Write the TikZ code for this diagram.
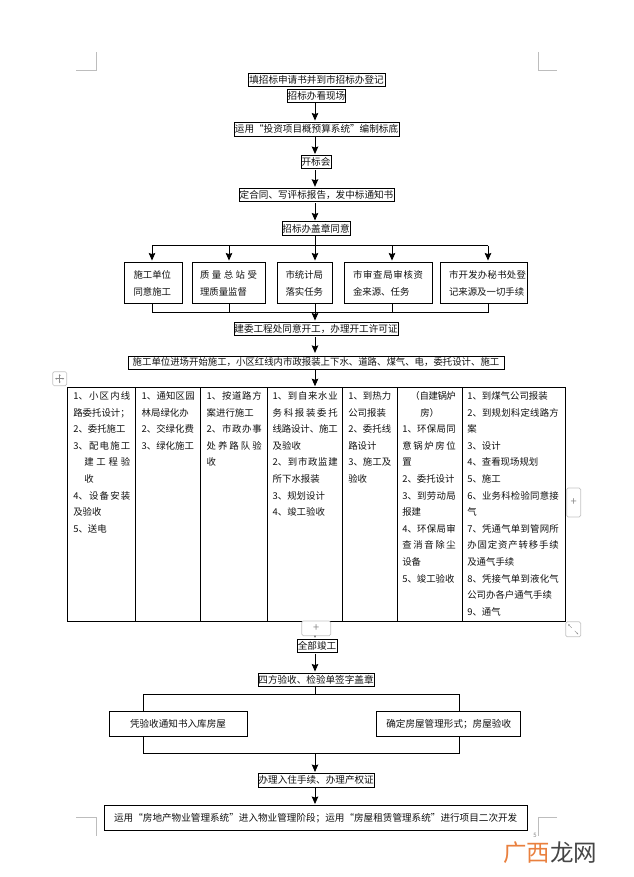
\documentclass[tikz,border=0pt]{standalone}
\usepackage{fontspec}
\setmainfont{Noto Sans CJK SC}
\usetikzlibrary{arrows.meta}
\XeTeXlinebreaklocale "zh"
\XeTeXlinebreakskip=0pt plus 3pt minus 0.5pt
\definecolor{markgrey}{HTML}{BDBDBD}
\definecolor{widgetgrey}{HTML}{C4C4C4}
\definecolor{iconcol}{HTML}{8A8A8A}
\definecolor{wmorange}{HTML}{E9803F}
\definecolor{wmdark}{HTML}{454545}
\definecolor{inkcol}{HTML}{111111}
\newcommand{\cellbody}[6]{\makebox[#1pt][l]{\hspace*{#2pt}\parbox[c][#3pt][t]{#4pt}{\fontsize{9.4}{#5}\selectfont\tolerance=10000\hbadness=10000\hfuzz=6pt\parindent=0pt\rule{0pt}{10pt}#6}}}
\newcommand{\ind}{\hspace*{11pt}}
\tikzset{
  bx/.style={draw=black,line width=0.9pt,inner sep=0pt,font=\fontsize{9.6}{11}\selectfont,text=inkcol},
  cellbx/.style={draw=black,line width=0.9pt,inner sep=0pt,text=inkcol},
  wide/.style={cellbx,font=\fontsize{9.6}{11}\selectfont},
  link/.style={draw=black,line width=0.9pt},
  arr/.style={link,-{Stealth[length=7.5pt,width=6.5pt,inset=1pt]},shorten >=1pt},
  mk/.style={draw=markgrey,line width=0.6pt},
  widget/.style={draw=widgetgrey,fill=white,line width=0.7pt,rounded corners=1.5pt,inner sep=0pt,text=iconcol},
  icon/.style={draw=iconcol,line width=0.45pt},
  wm/.style={inner sep=0pt,font=\fontsize{23.5}{24}\selectfont},
}
\begin{document}
\begin{tikzpicture}[x=1pt,y=-1pt]
\useasboundingbox (0,0) rectangle (633,877);
% crop marks
\draw[mk] (76,70) -- (96,70) -- (96,52);
\draw[mk] (538,52) -- (538,70) -- (557,70);
\draw[mk] (76,817) -- (96,817) -- (96,836);
\draw[mk] (557,817) -- (538,817) -- (538,836);
\coordinate (spine) at (315,0);
% top chain
\node[bx,minimum width=137pt,minimum height=13pt] (n1) at (316.5,79.5) {填招标申请书并到市招标办登记};
\node[bx,minimum width=58.5pt,minimum height=13pt] (n2) at (316.5,95.5) {招标办看现场};
\node[bx,minimum width=165pt,minimum height=14pt] (n3) at (316.5,129) {运用“投资项目概预算系统”编制标底};
\node[bx,minimum width=30pt,minimum height=13pt] (n4) at (316,162) {开标会};
\node[bx,minimum width=155pt,minimum height=13.5pt] (n5) at (316.5,195) {定合同、写评标报告，发中标通知书};
\node[bx,minimum width=68pt,minimum height=13.5pt] (n6) at (316,228.7) {招标办盖章同意};
\draw[arr] (n2.south -| spine) ++(0,1) -- (n3.north -| spine);
\draw[arr] (n3.south -| spine) -- (n4.north -| spine);
\draw[arr] (n4.south -| spine) ++(0,1) -- (n5.north -| spine);
\draw[arr] (n5.south -| spine) ++(0,1) -- (n6.north -| spine);
% five boxes
\node[cellbx,minimum width=58pt,minimum height=41pt] (r1) at (153,282.5) {\cellbody{58}{9.5}{28}{39}{16.5}{施工单位\\同意施工}};
\node[cellbx,minimum width=73pt,minimum height=41pt] (r2) at (228.5,282.5) {\cellbody{73}{8}{28}{57}{16.5}{质量总站受\linebreak 理质量监督}};
\node[cellbx,minimum width=55pt,minimum height=41pt] (r3) at (304.5,282.5) {\cellbody{55}{8.5}{28}{41}{16.5}{市统计局\\落实任务}};
\node[cellbx,minimum width=88pt,minimum height=41pt] (r4) at (388,282.5) {\cellbody{88}{9}{28}{70}{16.5}{市审查局审核资\linebreak 金来源、任务}};
\node[cellbx,minimum width=87pt,minimum height=41pt] (r5) at (483.5,282.5) {\cellbody{87}{9}{28}{77}{16.5}{市开发办秘书处登\linebreak 记来源及一切手续}};
\coordinate (t1) at (152,245.7);
\coordinate (t2) at (229,245.7);
\coordinate (t4) at (392,245.7);
\coordinate (t5) at (488,245.7);
\coordinate (u1) at (152,312);
\coordinate (u5) at (488,312);
\draw[link] (n6.south -| spine) -- (spine |- t1);
\draw[link] (t1) -- (t5);
\draw[arr] (t1) -- (r1.north -| t1);
\draw[arr] (t2) -- (r2.north -| t2);
\draw[arr] (spine |- t1) -- (r3.north -| spine);
\draw[arr] (t4) -- (r4.north -| t4);
\draw[arr] (t5) -- (r5.north -| t5);
\draw[link] (r1.south -| u1) -- (u1) -- (u5) -- (r5.south -| u5);
\draw[link] (r2.south -| t2) -- (t2 |- u1);
\draw[link] (r4.south -| t4) -- (t4 |- u1);
\draw[link] (r3.south -| spine) -- (spine |- u1);
% permits
\node[bx,minimum width=164pt,minimum height=13pt] (n7) at (316,328.5) {建委工程处同意开工，办理开工许可证};
\node[bx,minimum width=376pt,minimum height=13pt,font=\fontsize{9.4}{11}\selectfont] (n8) at (316,362.5) {施工单位进场开始施工，小区红线内市政报装上下水、道路、煤气、电，委托设计、施工};
\draw[arr] (spine |- u1) -- (n7.north -| spine);
\draw[arr] (n7.south -| spine) ++(0,1.5) -- ++(0,17);
% table
\node[cellbx,minimum width=68.4pt,minimum height=233.6pt] (c1) at (101.5,504.5) {\cellbody{68.4}{6}{230}{57}{16.6}{1、小区内线\linebreak 路委托设计；\\2、委托施工\\3、配电施工\linebreak \ind 建工程验\linebreak \ind 收\\4、设备安装\linebreak 及验收\\5、送电}};
\node[cellbx,minimum width=65pt,minimum height=233.6pt] (c2) at (168.2,504.5) {\cellbody{65}{6}{230}{53}{16.6}{1、通知区园\linebreak 林局绿化办\\2、交绿化费\\3、绿化施工}};
\node[cellbx,minimum width=67pt,minimum height=233.6pt] (c3) at (234.2,504.5) {\cellbody{67}{6}{230}{55}{16.6}{1、按道路方\linebreak 案进行施工\\2、市政办事\linebreak 处养路队验\linebreak 收}};
\node[cellbx,minimum width=74.6pt,minimum height=233.6pt] (c4) at (305,504.5) {\cellbody{74.6}{5}{230}{65}{16.6}{1、到自来水业\linebreak 务科报装委托\linebreak 线路设计、施工\linebreak 及验收\\2、到市政监建\linebreak 所下水报装\\3、规划设计\\4、竣工验收}};
\node[cellbx,minimum width=55pt,minimum height=233.6pt] (c5) at (369.8,504.5) {\cellbody{55}{6}{230}{43}{16.6}{1、到热力\linebreak 公司报装\\2、委托线\linebreak 路设计\\3、施工及\linebreak 验收}};
\node[cellbx,minimum width=65pt,minimum height=233.6pt] (c6) at (429.8,504.5) {\cellbody{65}{5}{230}{53.5}{16.6}{\hspace*{8pt}（自建锅炉\\\hspace*{18pt}房）\\1、环保局同\linebreak 意锅炉房位\linebreak 置\\2、委托设计\\3、到劳动局\linebreak 报建\\4、环保局审\linebreak 查消音除尘\linebreak 设备\\5、竣工验收}};
\node[cellbx,minimum width=103pt,minimum height=233.6pt] (c7) at (513.8,504.5) {\cellbody{103}{5}{230}{91.5}{16.6}{1、到煤气公司报装\\2、到规划科定线路方\linebreak 案\\3、设计\\4、查看现场规划\\5、施工\\6、业务科检验同意接\linebreak 气\\7、凭通气单到管网所\linebreak 办固定资产转移手续\linebreak 及通气手续\\8、凭接气单到液化气\linebreak 公司办各户通气手续\\9、通气}};
\draw[arr] (n8.south -| spine) ++(0,1) -- (spine |- c4.north);
% lower chain
\node[bx,minimum width=40pt,minimum height=13.5pt] (n9) at (317,645.8) {全部竣工};
\node[bx,minimum width=116pt,minimum height=13pt] (n10) at (316,679.5) {四方验收、检验单签字盖章};
\draw[arr] (spine |- c4.south) -- (n9.north -| spine);
\draw[arr] (n9.south -| spine) ++(0,0.5) -- (n10.north -| spine);
% editor widgets
\node[widget,minimum width=29pt,minimum height=14.7pt,font=\fontsize{11}{11}\selectfont] (plusb) at (316.2,628.3) {+};
\node[widget,minimum width=14pt,minimum height=29pt,font=\fontsize{11}{11}\selectfont] (plusr) at (573.7,502.5) {+};
\node[widget,minimum width=14pt,minimum height=14pt] (move) at (59.7,378.7) {};
\node[widget,minimum width=15pt,minimum height=15pt] (resize) at (573.2,629.3) {};
\draw[icon,{Stealth[length=1.6pt,width=1.8pt]}-{Stealth[length=1.6pt,width=1.8pt]}] (move.center) ++(-4.5,0) -- ++(9,0);
\draw[icon,{Stealth[length=1.6pt,width=1.8pt]}-{Stealth[length=1.6pt,width=1.8pt]}] (move.center) ++(0,-4.5) -- ++(0,9);
\draw[icon,-{Stealth[length=1.6pt,width=1.8pt]}] (resize.center) ++(-1.5,-1.5) -- ++(-3.5,-3.5);
\draw[icon,-{Stealth[length=1.6pt,width=1.8pt]}] (resize.center) ++(1.5,1.5) -- ++(3.5,3.5);
% split
\node[wide,minimum width=138pt,minimum height=24.6pt] (lb) at (178,724) {凭验收通知书入库房屋};
\node[wide,minimum width=144pt,minimum height=24.6pt] (rb) at (448.7,724) {确定房屋管理形式；房屋验收};
\coordinate (hl) at (143.3,694);
\coordinate (hr) at (459.3,694);
\coordinate (bl) at (143.3,753.3);
\coordinate (br) at (459.3,753.3);
\draw[link] (n10.south -| spine) -- (spine |- hl);
\draw[link] (lb.north -| hl) -- (hl) -- (hr) -- (rb.north -| hr);
\draw[link] (lb.south -| hl) -- (bl) -- (br) -- (rb.south -| hr);
\node[bx,minimum width=116.5pt,minimum height=13.5pt] (n11) at (316.2,780.2) {办理入住手续、办理产权证};
\node[wide,minimum width=422.6pt,minimum height=24.8pt] (n12) at (315.7,817.9) {运用“房地产物业管理系统”进入物业管理阶段；运用“房屋租赁管理系统”进行项目二次开发};
\draw[arr] (spine |- bl) -- (n11.north -| spine);
\draw[arr] (n11.south -| spine) -- (n12.north -| spine);
% page number, watermark
\node[inner sep=0pt,text=markgrey!70!black,font=\fontsize{6}{7}\selectfont] (pg) at (535,835) {5};
\node[wm,text=wmorange,anchor=west] (w1) at (503,852.5) {广西};
\node[wm,text=wmdark,anchor=west] (w2) at (550,852.5) {龙网};
\end{tikzpicture}
\end{document}
